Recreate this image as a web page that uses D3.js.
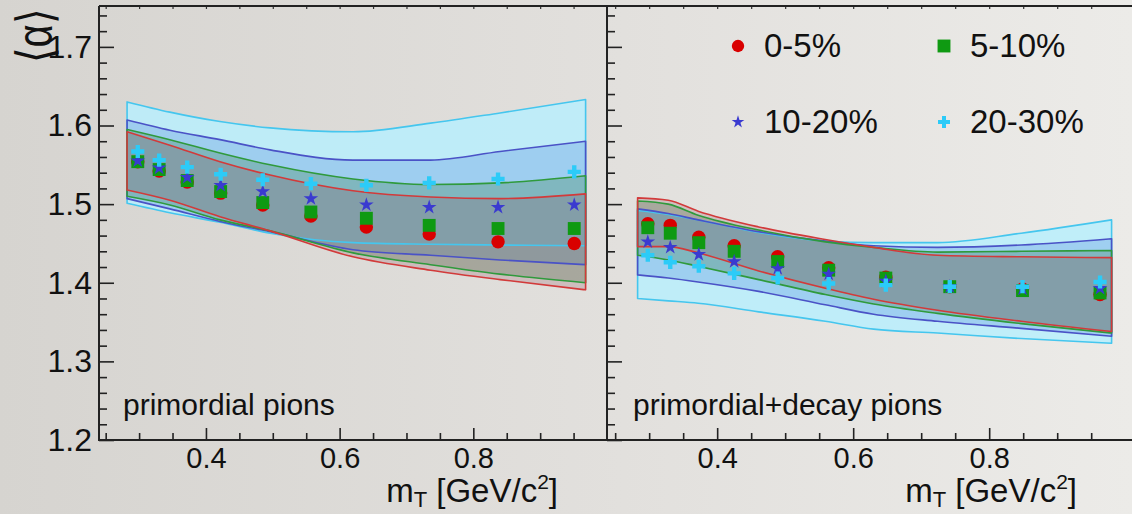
<!DOCTYPE html>
<html>
<head>
<meta charset="utf-8">
<script src="https://cdn.jsdelivr.net/npm/d3@7"></script>
<style>
  html, body { margin: 0; padding: 0; overflow: hidden; }
  svg { display: block; }
  text { font-family: "Liberation Sans", Arial, Helvetica, sans-serif; fill: #111; }
</style>
</head>
<body>
<svg id="chart" width="1132" height="514"></svg>
<script>
// ---------- data ----------
const centralities = ["0-5%", "5-10%", "10-20%", "20-30%"];
const panelLabels = ["primordial pions", "primordial+decay pions"];
const yTickValues = [1.2, 1.3, 1.4, 1.5, 1.6, 1.7];
const xTickValues = [0.4, 0.6, 0.8];

// primordial pions: mean alpha vs mT
const mTPrim = [0.298, 0.330, 0.372, 0.422, 0.485, 0.557, 0.640, 0.734, 0.837, 0.951];
const alphaPrim_0_5   = [1.554, 1.542, 1.528, 1.514, 1.499, 1.485, 1.471, 1.462, 1.452, 1.450];
const alphaPrim_5_10  = [1.554, 1.544, 1.530, 1.516, 1.502, 1.490, 1.482, 1.473, 1.469, 1.469];
const alphaPrim_10_20 = [1.555, 1.546, 1.534, 1.524, 1.516, 1.507, 1.499, 1.496, 1.496, 1.499];
const alphaPrim_20_30 = [1.567, 1.556, 1.547, 1.538, 1.531, 1.526, 1.524, 1.527, 1.532, 1.541];

// primordial pions: systematic bands
const bandMTPrim = [0.282, 0.346, 0.421, 0.496, 0.620, 0.736, 0.840, 0.968];
const bandPrimLo_0_5   = [1.518, 1.505, 1.484, 1.466, 1.433, 1.416, 1.404, 1.391];
const bandPrimHi_0_5   = [1.592, 1.575, 1.554, 1.537, 1.517, 1.509, 1.507, 1.513];
const bandPrimLo_5_10  = [1.510, 1.499, 1.480, 1.466, 1.438, 1.423, 1.411, 1.400];
const bandPrimHi_5_10  = [1.595, 1.582, 1.565, 1.550, 1.532, 1.525, 1.527, 1.536];
const bandPrimLo_10_20 = [1.507, 1.494, 1.478, 1.465, 1.442, 1.435, 1.429, 1.423];
const bandPrimHi_10_20 = [1.607, 1.594, 1.582, 1.569, 1.556, 1.556, 1.567, 1.580];
const bandPrimLo_20_30 = [1.501, 1.489, 1.477, 1.463, 1.451, 1.449, 1.448, 1.447];
const bandPrimHi_20_30 = [1.630, 1.617, 1.605, 1.597, 1.592, 1.603, 1.616, 1.633];

// primordial + decay pions: mean alpha vs mT
const mTAll = [0.298, 0.331, 0.373, 0.425, 0.489, 0.564, 0.648, 0.742, 0.849, 0.963];
const alphaAll_0_5   = [1.475, 1.473, 1.458, 1.447, 1.433, 1.419, 1.407, 1.395, 1.392, 1.385];
const alphaAll_5_10  = [1.470, 1.463, 1.451, 1.440, 1.427, 1.416, 1.406, 1.395, 1.390, 1.387];
const alphaAll_10_20 = [1.452, 1.445, 1.436, 1.427, 1.418, 1.411, 1.402, 1.395, 1.392, 1.393];
const alphaAll_20_30 = [1.435, 1.426, 1.421, 1.412, 1.406, 1.399, 1.397, 1.395, 1.395, 1.401];

// primordial + decay pions: systematic bands
const bandMTAll = [0.283, 0.328, 0.372, 0.461, 0.559, 0.630, 0.724, 0.847, 0.980];
const bandAllLo_0_5   = [1.446, 1.446, 1.438, 1.415, 1.393, 1.379, 1.365, 1.351, 1.338];
const bandAllHi_0_5   = [1.508, 1.505, 1.491, 1.471, 1.455, 1.445, 1.435, 1.433, 1.432];
const bandAllLo_5_10  = [1.435, 1.429, 1.421, 1.404, 1.385, 1.373, 1.361, 1.348, 1.336];
const bandAllHi_5_10  = [1.504, 1.500, 1.486, 1.467, 1.452, 1.445, 1.439, 1.440, 1.441];
const bandAllLo_10_20 = [1.410, 1.406, 1.401, 1.389, 1.372, 1.360, 1.351, 1.342, 1.332];
const bandAllHi_10_20 = [1.494, 1.488, 1.480, 1.465, 1.453, 1.447, 1.445, 1.448, 1.456];
const bandAllLo_20_30 = [1.380, 1.377, 1.374, 1.363, 1.351, 1.341, 1.336, 1.329, 1.323];
const bandAllHi_20_30 = [1.492, 1.487, 1.480, 1.464, 1.453, 1.451, 1.451, 1.463, 1.480];

// ---------- styles ----------
const markerColors = ["#d90000", "#0f9a12", "#3a3ad0", "#2ccbf8"];
const lineColors   = ["#d23a3a", "#2f9a3c", "#4a52c6", "#45c6ee"];
const fillColors   = ["#8c4b55", "#3c8250", "#5a8ee0", "#b9eefc"];
const fillOpacity  = [0.22, 0.30, 0.32, 0.88];
const markerTypes  = [d3.symbolCircle, d3.symbolSquare, d3.symbolStar, d3.symbolCross];
const markerSizes  = [142, 166, 66, 96];
const legendSizes  = [120, 166, 50, 80];

// ---------- layout ----------
const svg = d3.select("#chart");
const W = 1132, H = 514;
const plotTop = 6, plotBottom = 440;

const defs = svg.append("defs");
const grad = defs.append("linearGradient").attr("id", "bg").attr("x1", 0).attr("x2", 1).attr("y1", 0).attr("y2", 0);
grad.append("stop").attr("offset", "0%").attr("stop-color", "#d6d4d0");
grad.append("stop").attr("offset", "55%").attr("stop-color", "#e2e0dd");
grad.append("stop").attr("offset", "100%").attr("stop-color", "#ecebe8");
svg.append("rect").attr("width", W).attr("height", H).attr("fill", "url(#bg)");

const y = d3.scaleLinear().domain([1.2, 1.752]).range([plotBottom, plotTop]);

const panels = [
  {
    x: d3.scaleLinear().domain([0.24, 1.0]).range([99, 607]),
    mT: mTPrim,
    alphas: [alphaPrim_0_5, alphaPrim_5_10, alphaPrim_10_20, alphaPrim_20_30],
    bandMT: bandMTPrim,
    bandLo: [bandPrimLo_0_5, bandPrimLo_5_10, bandPrimLo_10_20, bandPrimLo_20_30],
    bandHi: [bandPrimHi_0_5, bandPrimHi_5_10, bandPrimHi_10_20, bandPrimHi_20_30],
    label: panelLabels[0], labelX: 123, titleEnd: 558, yLabels: true
  },
  {
    x: d3.scaleLinear().domain([0.238, 1.01]).range([607, 1132]),
    mT: mTAll,
    alphas: [alphaAll_0_5, alphaAll_5_10, alphaAll_10_20, alphaAll_20_30],
    bandMT: bandMTAll,
    bandLo: [bandAllLo_0_5, bandAllLo_5_10, bandAllLo_10_20, bandAllLo_20_30],
    bandHi: [bandAllHi_0_5, bandAllHi_5_10, bandAllHi_10_20, bandAllHi_20_30],
    label: panelLabels[1], labelX: 633, titleEnd: 1077, yLabels: false
  }
];

const xMinor = d3.range(0.25, 0.951, 0.05).map(v => +v.toFixed(2)).filter(v => !xTickValues.includes(v));
const yMinor = d3.range(1.22, 1.741, 0.02).map(v => +v.toFixed(2)).filter(v => !yTickValues.includes(v));

panels.forEach(p => {
  const x = p.x;
  const g = svg.append("g");

  // systematic bands: fills (outer first), then outlines
  const order = [3, 2, 1, 0];
  const area = d3.area()
    .x(d => x(d.m)).y0(d => y(d.lo)).y1(d => y(d.hi))
    .curve(d3.curveMonotoneX);
  const bandData = i => p.bandMT.map((m, k) => ({ m, lo: p.bandLo[i][k], hi: p.bandHi[i][k] }));
  order.forEach(i => {
    g.append("path").attr("d", area(bandData(i)))
      .attr("fill", fillColors[i]).attr("fill-opacity", fillOpacity[i]).attr("stroke", "none");
  });
  order.forEach(i => {
    g.append("path").attr("d", area(bandData(i)))
      .attr("fill", "none").attr("stroke", lineColors[i]).attr("stroke-width", 1.6)
      .attr("stroke-linejoin", "round");
  });

  // data points: 0-5% underneath, 20-30% on top
  [0, 1, 2, 3].forEach(i => {
    const sym = d3.symbol().type(markerTypes[i]).size(markerSizes[i]);
    g.selectAll(null).data(p.mT.map((m, k) => ({ m, a: p.alphas[i][k] })))
      .join("path")
      .attr("transform", d => `translate(${x(d.m)},${y(d.a)})`)
      .attr("d", sym())
      .attr("fill", markerColors[i]);
  });

  // axes
  const x0 = x.range()[0], x1 = x.range()[1];
  const yMinorAxis = d3.axisLeft(y).tickValues(yMinor).tickSize(-8).tickSizeOuter(0).tickFormat("");
  const yMajorAxis = d3.axisLeft(y).tickValues(yTickValues).tickSize(-15).tickSizeOuter(0).tickPadding(7)
    .tickFormat(p.yLabels ? d3.format(".1f") : "");
  const xMinorAxis = d3.axisBottom(x).tickValues(xMinor).tickSize(-7).tickSizeOuter(0).tickFormat("");
  const xMajorAxis = d3.axisBottom(x).tickValues(xTickValues).tickSize(-12).tickSizeOuter(0).tickPadding(7)
    .tickFormat(d3.format(".1f"));
  const xTopAxis = d3.axisTop(x).tickValues(xMinor.concat(xTickValues)).tickSize(-3).tickSizeOuter(0).tickFormat("");

  [yMinorAxis, yMajorAxis].forEach(ax => {
    const a = g.append("g").attr("transform", `translate(${x0},0)`).call(ax);
    a.select(".domain").remove();
    a.selectAll("line").attr("stroke", "#222").attr("stroke-width", 1.6);
    a.selectAll("text").attr("font-size", 32).attr("fill", "#111")
      .attr("font-family", '"Liberation Sans", Arial, sans-serif');
  });
  [xMinorAxis, xMajorAxis].forEach(ax => {
    const a = g.append("g").attr("transform", `translate(0,${plotBottom})`).call(ax);
    a.select(".domain").remove();
    a.selectAll("line").attr("stroke", "#222").attr("stroke-width", 1.6);
    a.selectAll("text").attr("font-size", 29).attr("fill", "#111")
      .attr("font-family", '"Liberation Sans", Arial, sans-serif');
  });
  const top = g.append("g").attr("transform", `translate(0,${plotTop})`).call(xTopAxis);
  top.select(".domain").remove();
  top.selectAll("line").attr("stroke", "#333").attr("stroke-width", 1.2);

  // frame
  g.append("path")
    .attr("d", `M${x0},${plotTop}H${x1}M${x0},${plotTop}V${plotBottom}H${x1}`)
    .attr("fill", "none").attr("stroke", "#222").attr("stroke-width", 2);

  // panel label
  g.append("text").attr("x", p.labelX).attr("y", 415).attr("font-size", 30).text(p.label);

  // axis title
  const t = g.append("text").attr("x", p.titleEnd).attr("y", 502)
    .attr("text-anchor", "end").attr("font-size", 33);
  t.append("tspan").text("m");
  t.append("tspan").attr("font-size", 22).attr("dy", 5).text("T");
  t.append("tspan").attr("dy", -5).text(" [GeV/c");
  t.append("tspan").attr("font-size", 21).attr("dy", -13).text("2");
  t.append("tspan").attr("dy", 13).text("]");
});

// y-axis title
svg.append("text")
  .attr("transform", "translate(52,36) rotate(-90) scale(1,1.25)")
  .attr("text-anchor", "middle")
  .attr("font-family", '"DejaVu Sans", "Liberation Sans", sans-serif')
  .attr("font-size", 40)
  .text("\u27E8\u03B1\u27E9");

// legend
const legendPos = [[738, 46], [944, 46], [738, 122], [944, 122]];
const legend = svg.append("g");
centralities.forEach((c, i) => {
  const [lx, ly] = legendPos[i];
  legend.append("path")
    .attr("transform", `translate(${lx},${ly})`)
    .attr("d", d3.symbol().type(markerTypes[i]).size(legendSizes[i])())
    .attr("fill", markerColors[i]);
  legend.append("text").attr("x", lx + 26).attr("y", ly + 11)
    .attr("font-size", 33).text(c);
});
</script>
</body>
</html>
